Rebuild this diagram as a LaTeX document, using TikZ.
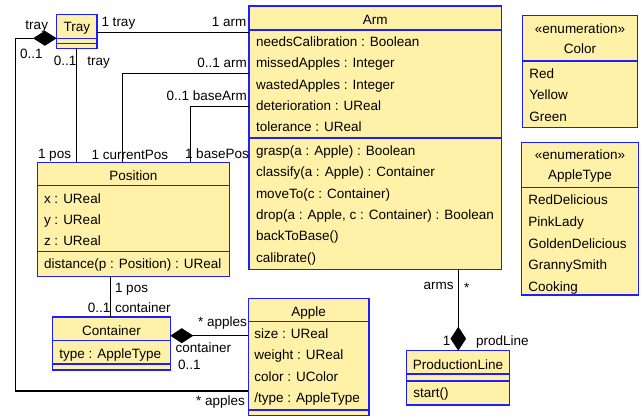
\documentclass[tikz,border=0pt]{standalone}
\usepackage{fontspec}
\setmainfont{Liberation Sans}
\definecolor{clsfill}{RGB}{255,242,168}
\definecolor{clsline}{RGB}{30,30,255}
\newcommand\fs{\fontsize{13.5}{16}\selectfont}
% class box: name, left, top, right, bottom (pixel units, y downwards)
\newcommand\classbox[5]{\node[cls, minimum width={#4-#2}, minimum height={#5-#3}] (#1) at (#2,#3) {};}
% compartment separator inside a class box at height y
\newcommand\sepat[2]{\draw[clsline, line width=1.3pt] (#1.west |- 0,#2) -- (#1.east |- 0,#2);}
\begin{document}
\begin{tikzpicture}[x=1pt,y=-1pt,
  every node/.style={inner sep=0pt, outer sep=0pt},
  cls/.style={draw=clsline, fill=clsfill, line width=1.3pt, anchor=north west},
  row/.style={anchor=base west, font=\fs},
  ttl/.style={anchor=base, font=\fs},
  lbl/.style={font=\fs},
  conn/.style={draw=black, line width=1.3pt},
  dmd/.style={fill=black}]
\useasboundingbox (0,0) rectangle (642,417);

% ---------- classes ----------
\classbox{arm}{249}{6}{501.7}{269.3}
\sepat{arm}{30}\sepat{arm}{138}
\node[ttl] at (375.3,24.1) {Arm};
\foreach \t [count=\i from 0] in {needsCalibration : Boolean, missedApples : Integer, wastedApples : Integer, deterioration : UReal, tolerance : UReal}
  \node[row] at (256,46.5+21.3*\i) {\t};
\foreach \t [count=\i from 0] in {grasp(a : Apple) : Boolean, classify(a : Apple) : Container, moveTo(c : Container), {drop(a : Apple, c : Container) : Boolean}, backToBase(), calibrate()}
  \node[row] at (256,155.5+21.3*\i) {\t};

\classbox{tray}{56.7}{14.7}{97}{48.3}
\sepat{tray}{38.3}\sepat{tray}{43.7}
\node[ttl] at (76.85,31.8) {Tray};

\classbox{pos}{37.3}{162.3}{229.3}{276.7}
\sepat{pos}{185.7}\sepat{pos}{251.7}
\node[ttl] at (133.3,180.5) {Position};
\node[row] at (44,203.1) {x : UReal};
\node[row] at (44,224.3) {y : UReal};
\node[row] at (44,245.5) {z : UReal};
\node[row] at (44,268.1) {distance(p : Position) : UReal};

\classbox{cont}{52.7}{317}{170.3}{370}
\sepat{cont}{340.7}\sepat{cont}{364}
\node[ttl] at (111.5,335.5) {Container};
\node[row] at (59.3,358.1) {type : AppleType};

\classbox{apple}{248.3}{298.3}{369}{415.7}
\sepat{apple}{321.7}\sepat{apple}{410}
\node[ttl] at (308.65,316.5) {Apple};
\node[row] at (254.3,338.1) {size : UReal};
\node[row] at (254.3,359.7) {weight : UReal};
\node[row] at (254.3,381.1) {color : UColor};
\node[row] at (254.3,402.7) {/type : AppleType};

\classbox{prod}{406.7}{350.7}{509.3}{405}
\sepat{prod}{374}\sepat{prod}{381}
\node[ttl] at (458,369.8) {ProductionLine};
\node[row] at (413.3,397.5) {start()};

\classbox{color}{522.3}{15.7}{637.7}{127.7}
\sepat{color}{61}
\node[ttl] at (580,33.8) {«enumeration»};
\node[ttl] at (580,53.1) {Color};
\foreach \t [count=\i from 0] in {Red, Yellow, Green}
  \node[row] at (529.3,78.1+21.7*\i) {\t};

\classbox{atype}{521.7}{142.7}{638.3}{295}
\sepat{atype}{187.7}
\node[ttl] at (580,159.8) {«enumeration»};
\node[ttl] at (580,179.8) {AppleType};
\foreach \t [count=\i from 0] in {RedDelicious, PinkLady, GoldenDelicious, GrannySmith, Cooking}
  \node[row] at (528.3,204.8+21.7*\i) {\t};

% ---------- associations ----------
% Tray -- Arm
\draw[conn] (tray.east |- 0,32.3) -- (arm.west |- 0,32.3);
\node[lbl, anchor=base west] at (101.5,27) {1 tray};
\node[lbl, anchor=base east] at (246.5,27) {1 arm};

% Tray <>-- Apple (composition)
\coordinate (dT) at (33,38.3);
\fill[dmd] (tray.west |- 0,38.3) -- ++(-11.85,-7.5) -- (dT) -- ++(11.85,7.5) -- cycle;
\draw[conn] (dT) -- (15.3,38.3) |- (apple.west |- 0,391);
\node[lbl, anchor=base east] at (48,29.5) {tray};
\node[lbl, anchor=base west] at (20,58.8) {0..1};
\node[lbl, anchor=base east] at (245,405) {* apples};

% Tray -- Position
\draw[conn] (tray.south -| 76.7,0) -- (pos.north -| 76.7,0);
\node[lbl, anchor=base east] at (76.5,65.5) {0..1};
\node[lbl, anchor=base west] at (87.3,65.5) {tray};
\node[lbl, anchor=base west] at (38,158) {1 pos};

% Arm -- Position (currentPos)
\draw[conn] (arm.west |- 0,73.3) -| (pos.north -| 122.3,0);
\node[lbl, anchor=base east] at (247,68) {0..1 arm};
\node[lbl, anchor=base west] at (91.7,159.5) {1 currentPos};

% Arm -- Position (basePos)
\draw[conn] (arm.west |- 0,106.7) -| (pos.north -| 190.3,0);
\node[lbl, anchor=base east] at (247,101) {0..1 baseArm};
\node[lbl, anchor=base west] at (185,158) {1 basePos};

% Position -- Container
\draw[conn] (pos.south -| 110.7,0) -- (cont.north -| 110.7,0);
\node[lbl, anchor=base west] at (115,292) {1 pos};
\node[lbl, anchor=base east] at (110.5,312) {0..1};
\node[lbl, anchor=base west] at (115,312) {container};

% Container <>-- Apple (composition)
\coordinate (dC) at (193.3,335.7);
\fill[dmd] (cont.east |- 0,335.7) -- ++(11.5,-7.5) -- (dC) -- ++(-11.5,7.5) -- cycle;
\draw[conn] (dC) -- (apple.west |- 0,335.7);
\node[lbl, anchor=base east] at (247,326) {* apples};
\node[lbl, anchor=base west] at (175.7,352) {container};
\node[lbl, anchor=base west] at (178,369.5) {0..1};

% ProductionLine <>-- Arm (composition)
\coordinate (dP) at (458.3,326.7);
\fill[dmd] (prod.north -| 458.3,0) -- ++(-7.8,-12) -- (dP) -- ++(7.8,12) -- cycle;
\draw[conn] (arm.south -| 458.3,0) -- (dP);
\node[lbl, anchor=base east] at (453.5,289.5) {arms};
\node[lbl, anchor=base west] at (464,292) {*};
\node[lbl, anchor=base east] at (450.5,345) {1};
\node[lbl, anchor=base west] at (476,345) {prodLine};
\end{tikzpicture}
\end{document}
